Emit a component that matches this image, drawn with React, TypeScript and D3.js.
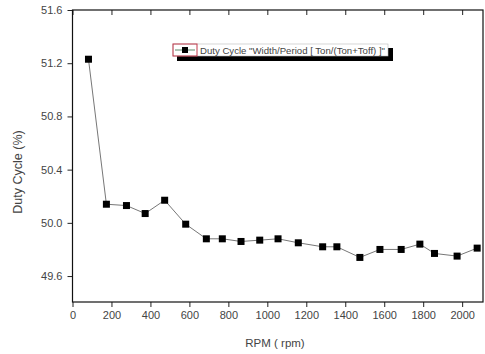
import {useEffect, useRef} from "react";
import * as d3 from "d3";

const rpm = [82, 174, 277, 373, 473, 581, 687, 769, 865, 961, 1055, 1159, 1284, 1357, 1475, 1578, 1687, 1783, 1858, 1974, 2077];
const duty = [51.23, 50.14, 50.13, 50.07, 50.17, 49.99, 49.88, 49.88, 49.86, 49.87, 49.88, 49.85, 49.82, 49.82, 49.74, 49.8, 49.8, 49.84, 49.77, 49.75, 49.81];
const xTicks = [0, 200, 400, 600, 800, 1000, 1200, 1400, 1600, 1800, 2000];
const yTicks = [49.6, 50.0, 50.4, 50.8, 51.2, 51.6];
const legendLabel = 'Duty Cycle "Width/Period [ Ton/(Ton+Toff) ]"';

const W = 485;
const H = 354;

const App = () => {
	const svgRef = useRef(null);

	useEffect(() => {
		const left = 72.5, right = 483, top = 10, bottom = 302;
		const x = d3.scaleLinear().domain([0, 2107]).range([left, right]);
		const y = d3.scaleLinear().domain([49.405, 51.6]).range([bottom, top]);

		const svg = d3.select(svgRef.current);
		svg.selectAll("*").remove();
		svg.append("rect").attr("width", W).attr("height", H).attr("fill", "#fff");

		const font = "'Liberation Sans', Arial, sans-serif";
		const minorX = d3.range(0, 2101, 100);
		const minorY = d3.range(49.4, 51.61, 0.2);

		// bottom axis
		const gx = svg.append("g").attr("transform", `translate(0,${bottom})`);
		gx.call(d3.axisBottom(x).tickValues(minorX).tickSize(3).tickFormat(() => ""));
		gx.call(d3.axisBottom(x).tickValues(xTicks).tickSize(5).tickPadding(4).tickFormat(d3.format("d")));
		gx.selectAll(".domain").remove();

		// top axis (mirror, inward)
		const gt = svg.append("g").attr("transform", `translate(0,${top})`);
		gt.call(d3.axisBottom(x).tickValues(minorX).tickSize(3).tickFormat(() => ""));
		gt.call(d3.axisBottom(x).tickValues(xTicks).tickSize(5).tickFormat(() => ""));
		gt.selectAll(".domain").remove();

		// left axis
		const gy = svg.append("g").attr("transform", `translate(${left},0)`);
		gy.call(d3.axisLeft(y).tickValues(minorY).tickSize(3).tickFormat(() => ""));
		gy.call(d3.axisLeft(y).tickValues(yTicks).tickSize(5).tickPadding(5).tickFormat(d3.format(".1f")));
		gy.selectAll(".domain").remove();

		svg.selectAll(".tick line").attr("stroke", "#222");
		svg.selectAll(".tick text")
			.attr("font-family", font)
			.attr("font-size", 11)
			.attr("fill", "#444");

		// frame
		svg.append("rect")
			.attr("x", left).attr("y", top)
			.attr("width", right - left).attr("height", bottom - top)
			.attr("fill", "none").attr("stroke", "#111").attr("stroke-width", 1.2);

		// series
		const pts = rpm.map((r, i) => [r, duty[i]]);
		svg.append("path")
			.datum(pts)
			.attr("fill", "none")
			.attr("stroke", "#777")
			.attr("stroke-width", 1)
			.attr("d", d3.line().x((d) => x(d[0])).y((d) => y(d[1])));

		svg.append("g")
			.selectAll("rect")
			.data(pts)
			.join("rect")
			.attr("x", (d) => x(d[0]) - 3.5)
			.attr("y", (d) => y(d[1]) - 3.5)
			.attr("width", 7)
			.attr("height", 7)
			.attr("fill", "#000");

		// legend
		const lg = svg.append("g").attr("transform", "translate(173,44)");
		lg.append("rect").attr("x", 4).attr("y", 4).attr("width", 216).attr("height", 13).attr("fill", "#000");
		lg.append("rect").attr("width", 215).attr("height", 12).attr("fill", "#fff").attr("stroke", "#bbb").attr("stroke-width", 0.6);
		lg.append("rect").attr("width", 24).attr("height", 12).attr("fill", "none").attr("stroke", "#c0394b").attr("stroke-width", 1);
		lg.append("line").attr("x1", 2).attr("x2", 22).attr("y1", 6).attr("y2", 6).attr("stroke", "#5a8a6a");
		lg.append("rect").attr("x", 9).attr("y", 3).attr("width", 6).attr("height", 6).attr("fill", "#000");
		lg.append("text")
			.attr("x", 27).attr("y", 9.5)
			.attr("font-family", font).attr("font-size", 9).attr("fill", "#444")
			.attr("textLength", 185).attr("lengthAdjust", "spacingAndGlyphs")
			.text(legendLabel);

		// axis titles
		svg.append("text")
			.attr("transform", `translate(22,172) rotate(-90)`)
			.attr("text-anchor", "middle")
			.attr("font-family", font).attr("font-size", 12.5).attr("fill", "#444")
			.text("Duty Cycle (%)");
		svg.append("text")
			.attr("x", 275).attr("y", 347)
			.attr("text-anchor", "middle")
			.attr("font-family", font).attr("font-size", 11.5).attr("fill", "#444")
			.text("RPM ( rpm)");
	}, []);

	return (
		<svg
			ref={svgRef}
			width={W}
			height={H}
			style={{position: "absolute", left: 0, top: 0, display: "block"}}
		></svg>
	);
};

export default App;
